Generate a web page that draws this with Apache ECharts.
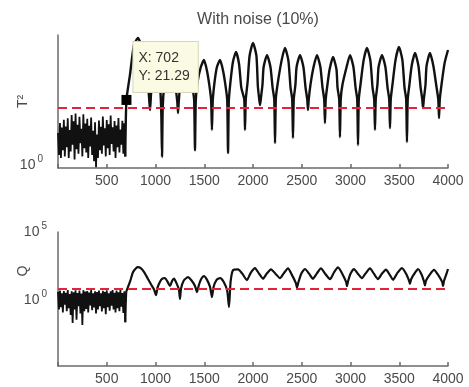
<!DOCTYPE html>
<html>
<head>
<meta charset="utf-8">
<script src="https://cdn.jsdelivr.net/npm/echarts@6/dist/echarts.min.js"></script>
<style>
  html, body { margin: 0; padding: 0; background: #fff; }
  #chart { width: 469px; height: 387px; }
</style>
</head>
<body>
<div id="chart"></div>
<script>
// sample positions of the noisy start (same for both panels)
const noiseX = [0,10,20,30,40,50,60,70,80,90,100,110,120,130,140,150,160,170,180,190,
  200,210,220,230,240,250,260,270,280,290,300,310,320,330,340,350,360,370,380,390,
  400,410,420,430,440,450,460,470,480,490,500,510,520,530,540,550,560,570,580,590,
  600,610,620,630,640,650,660,670,680,690];

const t2Noise = [4.5,1.6,7.2,1.4,5.8,2.0,8.4,1.5,6.1,2.3,9.0,1.4,5.2,1.9,10.5,2.6,7.8,1.3,11.2,2.1,
  6.6,1.7,9.6,2.8,5.5,1.5,10.8,2.2,7.0,1.8,8.8,1.4,6.3,2.4,9.3,1.6,5.0,1.2,7.5,0.9,
  4.2,1.4,8.1,2.0,6.0,1.7,9.8,2.5,5.6,1.5,8.3,2.2,6.8,1.6,10.2,2.7,5.9,1.9,7.9,1.4,
  6.4,2.3,9.1,1.8,5.3,2.6,8.0,1.7,7.1,1.5];

const qNoise = [4.0,0.2,5.0,0.3,3.2,0.12,4.7,0.45,3.5,0.15,5.5,0.25,2.8,0.08,4.4,0.02,3.8,0.2,5.3,0.035,
  3.3,0.35,5.0,0.1,3.0,0.014,5.4,0.15,4.2,0.22,4.6,0.12,3.6,0.4,5.6,0.18,3.1,0.28,4.5,0.1,
  3.9,0.2,5.1,0.35,3.2,0.14,4.8,0.25,4.0,0.09,5.3,0.3,3.1,0.16,4.4,0.38,5.5,0.2,3.5,0.12,
  5.0,0.25,3.8,0.15,5.4,0.32,3.3,0.11,4.5,0.023];

// [sample, T2] after the fault starts
const t2Trace = [[690,1.5],[702,21.29],[738,69],[779,280],[820,391],[860,250],[900,80],[930,30],[944,13.2],[955,30],[975,65],
  [1005,126],[1035,65],[1052,28],[1060,10],[1067,1.46],[1074,15],[1090,43],[1115,90],[1149,139],[1180,80],
  [1210,33],[1223,20],[1231,11.5],[1239,20],[1255,48],[1290,100],[1323,139],[1355,80],[1385,33],[1397,20],
  [1405,2.0],[1413,20],[1430,48],[1465,100],[1497,139],[1530,80],[1560,33],[1571,20],[1579,5.2],[1587,20],
  [1605,48],[1630,100],[1662,139],[1695,80],[1725,33],[1736,20],[1744,1.76],[1752,20],[1770,52],[1795,130],
  [1826,202],[1857,115],[1880,38],[1910,22],[1918,5.2],[1926,22],[1945,50],[1965,170],
  [2000,309],[2035,170],[2050,40],[2064,22],[2072,16.7],[2080,22],[2097,43],[2109,100],[2144,175],[2179,100],
  [2201,38],[2218,22],[2226,2.8],[2234,22],[2251,43],[2293,135],[2328,245],[2363,135],[2385,38],[2402,22],
  [2410,3.55],[2418,22],[2435,43],[2447,100],[2482,175],[2517,100],[2539,38],[2556,22],[2564,13.2],[2572,22],
  [2589,43],[2621,100],[2656,175],[2691,100],[2713,38],[2730,22],[2738,7.2],[2746,22],[2763,43],[2786,90],
  [2821,160],[2856,90],[2867,38],[2884,22],[2892,3.7],[2900,22],[2917,43],[2960,100],[2995,175],[3030,100],
  [3052,38],[3069,22],[3077,2.56],[3085,22],[3102,43],[3134,135],[3169,245],[3204,135],[3226,38],[3243,22],
  [3251,5.2],[3259,22],[3276,43],[3288,100],[3323,175],[3358,100],[3380,38],[3397,22],[3405,5.7],[3413,22],
  [3430,43],[3462,140],[3497,256],[3532,140],[3554,38],[3571,22],[3579,2.95],[3587,22],[3604,43],[3627,105],
  [3662,193],[3697,105],[3719,38],[3736,22],[3744,14.5],[3752,22],[3769,43],[3780,105],[3815,193],[3850,105],
  [3883,38],[3900,22],[3908,9.1],[3916,22],[3933,43],[3965,120],[4000,222]];

// [sample, Q] after the fault starts
const qTrace = [[690,0.023],[700,4],[715,8],[740,25],[770,120],[800,230],[820,277],[845,240],[880,130],[920,40],[955,14],
  [985,6],[1005,2.3],[1020,8],[1045,22],[1070,38],[1097,43],[1120,25],[1149,11],[1170,26],[1190,38],
  [1215,18],[1240,6],[1251,1.2],[1262,7],[1290,28],[1333,50],[1370,28],[1405,11],[1426,3.9],[1445,13],
  [1470,38],[1497,60],[1530,30],[1560,9],[1579,1.67],[1595,9],[1625,30],[1662,43],[1700,22],[1735,5],
  [1754,0.3],[1770,22],[1795,166],[1846,190],[1890,90],[1938,30],[1975,100],[2020,235],[2060,95],[2103,38],
  [2140,90],[2185,190],[2230,90],[2277,42],[2315,95],[2359,220],[2400,70],[2440,18],[2451,8],[2465,20],
  [2495,90],[2533,200],[2575,90],[2615,38],[2655,95],[2697,220],[2740,90],[2790,35],[2830,110],[2872,260],
  [2915,90],[2955,22],[2964,11],[2975,25],[3000,90],[3036,200],[3075,90],[3118,42],[3155,95],[3200,220],
  [3240,90],[3282,35],[3320,85],[3364,180],[3400,80],[3436,32],[3480,100],[3528,235],[3570,90],[3600,28],
  [3610,16],[3622,35],[3655,90],[3692,200],[3730,75],[3755,22],[3764,12],[3775,28],[3815,80],[3856,170],
  [3900,70],[3940,22],[3949,11],[3960,28],[3985,90],[4000,200]];

const t2Limit = 15;
const qLimit = 6.5;
const tipX = 702, tipY = 21.29;

const t2NoiseData = noiseX.map((x, i) => [x, t2Noise[i]]);
const qNoiseData = noiseX.map((x, i) => [x, qNoise[i]]);

const font = 'Arial, "Liberation Sans", sans-serif';
const axisGray = '#6a6a6a';
const textGray = '#4a4a4a';

function xAxisFor(gridIndex) {
  return {
    type: 'value', gridIndex, min: 0, max: 4000, interval: 500,
    axisLine: { lineStyle: { color: axisGray, width: 1.5 } },
    axisTick: { inside: true, length: 4, lineStyle: { color: axisGray, width: 1.5 } },
    axisLabel: { color: textGray, fontSize: 14, fontFamily: font, margin: 6,
      formatter: v => v === 0 ? '' : String(v) },
    splitLine: { show: false }
  };
}

function yAxisFor(gridIndex, min, max, labels, name, margin, namePad) {
  return {
    type: 'log', logBase: 10, gridIndex, min, max,
    name, nameLocation: 'middle', nameGap: 28, nameMoveOverlap: false,
    nameTextStyle: { color: textGray, fontSize: 14, fontFamily: font, padding: namePad },
    axisLine: { show: true, lineStyle: { color: axisGray, width: 1.5 } },
    axisTick: { show: false },
    splitLine: { show: false },
    axisLabel: {
      customValues: labels, margin, color: textGray, fontSize: 14, fontFamily: font,
      formatter: v => '{b|10}{s|' + Math.round(Math.log10(v)) + '}',
      rich: { b: { fontSize: 14, color: textGray, fontFamily: font },
              s: { fontSize: 10, color: textGray, fontFamily: font, padding: [0, 0, 12, 2] } }
    }
  };
}

function limitLine(value) {
  return {
    silent: true, symbol: 'none', animation: false,
    label: { show: false },
    lineStyle: { color: '#e3233a', type: [9, 5], width: 2 },
    data: [{ yAxis: value }]
  };
}

function noiseSeries(axis, data) {
  return {
    type: 'line', xAxisIndex: axis, yAxisIndex: axis, data,
    showSymbol: false, lineStyle: { color: '#111', width: 1.8 }
  };
}

const chart = echarts.init(document.getElementById('chart'));
chart.setOption({
  animation: false,
  backgroundColor: '#fff',
  title: {
    text: 'With noise (10%)', left: 253, top: 7, textAlign: 'center',
    textStyle: { color: textGray, fontSize: 16, fontWeight: 'normal', fontFamily: font }
  },
  grid: [
    { left: 58, right: 21, top: 35, height: 133, outerBoundsMode: 'none' },
    { left: 58, right: 21, top: 232, height: 134, outerBoundsMode: 'none' }
  ],
  xAxis: [xAxisFor(0), xAxisFor(1)],
  yAxis: [
    yAxisFor(0, 0.87, 450, [1], 'T²', 15, [0, 0, 0, 0]),
    yAxisFor(1, 1.3e-5, 1.1e5, [1, 1e5], 'Q', 11, [0, 0, 0, 56])
  ],
  series: [
    noiseSeries(0, t2NoiseData),
    {
      type: 'line', xAxisIndex: 0, yAxisIndex: 0, data: t2Trace,
      showSymbol: false, smooth: 0.2, lineStyle: { color: '#111', width: 2.4 },
      markLine: limitLine(t2Limit),
      markPoint: {
        symbol: 'rect', symbolSize: 10, itemStyle: { color: '#000' },
        data: [{ coord: [tipX, tipY] }],
        label: {
          show: true, position: [12, -53],
          formatter: '{t|X: ' + tipX + '}\n{t|Y: ' + tipY + '}',
          backgroundColor: '#fbfbe4', borderColor: '#d6d6bd', borderWidth: 1,
          padding: [7, 8, 7, 5],
          rich: { t: { fontSize: 14, lineHeight: 18, color: '#333', fontFamily: font } }
        }
      }
    },
    noiseSeries(1, qNoiseData),
    {
      type: 'line', xAxisIndex: 1, yAxisIndex: 1, data: qTrace,
      showSymbol: false, smooth: 0.2, lineStyle: { color: '#111', width: 2.2 },
      markLine: limitLine(qLimit)
    }
  ]
});
</script>
</body>
</html>
